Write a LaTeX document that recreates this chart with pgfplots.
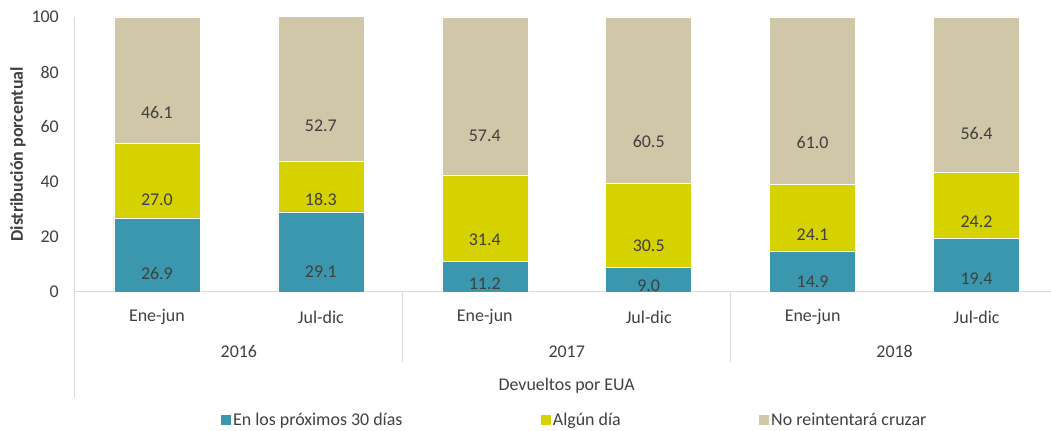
\documentclass[border=0pt]{standalone}
\usepackage{fontspec}
\setmainfont{Carlito}
\usepackage{pgfplots}
\pgfplotsset{compat=1.18}
\definecolor{cteal}{RGB}{59,151,173}
\definecolor{cyel}{RGB}{214,210,0}
\definecolor{cbeige}{RGB}{208,198,168}
\definecolor{ctext}{RGB}{64,64,64}
\definecolor{cline}{RGB}{217,217,217}
\pgfplotstableread{
x a b c
0 26.9 27.0 46.1
1 29.1 18.3 52.7
2 11.2 31.4 57.4
3 9.0 30.5 60.5
4 14.9 24.1 61.0
5 19.4 24.2 56.4
}\datatable
\begin{document}
\begin{tikzpicture}
\begin{axis}[
  /pgf/number format/assume math mode=true,
  scale only axis, width=976bp, height=275bp,
  ybar stacked, bar width=0.5244,
  xmin=-0.5, xmax=5.4512, ymin=0, ymax=100,
  clip=false,
  axis line style={draw=none},
  major tick length=0pt,
  font=\fontsize{18}{21}\selectfont,
  every tick label/.append style={font=\fontsize{18}{21}\selectfont, text=ctext},
  xtick={0,1,2,3,4,5},
  xticklabels={Ene-jun,Jul-dic,Ene-jun,Jul-dic,Ene-jun,Jul-dic},
  xticklabel style={anchor=center, yshift=-25bp},
  extra x ticks={0.5,2.5,4.5},
  extra x tick labels={2016,2017,2018},
  extra x tick style={xticklabel style={yshift=-35bp}},
  ytick={0,20,40,60,80,100},
  yticklabel style={anchor=east, inner sep=0pt, xshift=-16bp},
  every axis y label/.style={at={(axis description cs:-0.0584,0.5)}, rotate=90, anchor=center, font=\fontsize{18}{21}\selectfont\bfseries, text=ctext},
  ylabel={Distribución porcentual},
  every axis x label/.style={at={(axis description cs:0.504,-0.343)}, anchor=center, font=\fontsize{18}{21}\selectfont, text=ctext},
  xlabel={Devueltos por EUA},
  visualization depends on={rawy \as \rawy},
  nodes near coords={\pgfmathprintnumber[fixed,fixed zerofill,precision=1,assume math mode=true]{\rawy}},
  every node near coord/.append style={anchor=center, text=ctext, font=\fontsize{18}{21}\selectfont, yshift={-\rawy*0.6875bp}},
  legend columns=3,
  legend style={draw=none, fill=none, at={(axis description cs:0.5115,-0.4655)}, anchor=center,
    font=\fontsize{18}{21}\selectfont, text=ctext,
    nodes={inner sep=1.5bp},
    /tikz/every even column/.append style={column sep=136bp}},
  legend image code/.code={\fill[#1] (0bp,-5.5bp) rectangle (11bp,5.5bp);},
]
\addplot[fill=cteal, draw=white, line width=0.5bp] table[x=x, y=a] {\datatable};
\addplot[fill=cyel, draw=white, line width=0.5bp] table[x=x, y=b] {\datatable};
\addplot[fill=cbeige, draw=white, line width=0.5bp] table[x=x, y=c] {\datatable};
\legend{En los próximos 30 días, Algún día, No reintentará cruzar}
\draw[cline, line width=1bp] (axis cs:-0.5,100) -- (axis cs:-0.5,-38.2);
\draw[cline, line width=1bp] (axis cs:-0.5,0) -- (axis cs:5.4512,0);
\draw[cline, line width=1bp] (axis cs:1.5,0) -- (axis cs:1.5,-25.5);
\draw[cline, line width=1bp] (axis cs:3.5,0) -- (axis cs:3.5,-25.5);
\path (axis cs:-0.9573,106.18) rectangle (axis cs:5.4512,-49.82);
\end{axis}
\end{tikzpicture}
\end{document}
